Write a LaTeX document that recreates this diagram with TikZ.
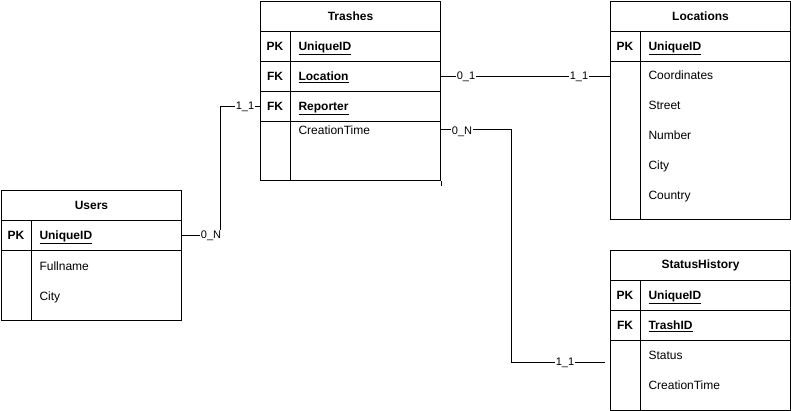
\documentclass[tikz,border=0pt]{standalone}
\usepackage{fontspec}
\setmainfont{Liberation Sans}
\usetikzlibrary{positioning}

\tikzset{
  tbox/.style={draw, minimum width=180pt, inner sep=0pt, anchor=north west},
  head/.style={tbox, minimum height=30pt, font=\fontsize{12}{14}\selectfont\bfseries},
  row/.style={tbox, minimum height=30pt},
  keytxt/.style={inner sep=0pt, text height=8.6pt, text depth=0pt, font=\fontsize{12}{14}\selectfont\bfseries},
  fieldtxt/.style={anchor=west, inner sep=0pt, text height=8.6pt, text depth=0pt, font=\fontsize{12}{14}\selectfont},
  keyfield/.style={fieldtxt, font=\fontsize{12}{14}\selectfont\bfseries},
  card/.style={fill=white, inner sep=1pt, text height=7.9pt, text depth=0pt, font=\fontsize{11}{13}\selectfont},
}

\begin{document}
\begin{tikzpicture}[x=1pt, y=-1pt, line width=1pt]
\useasboundingbox (0,0) rectangle (791,411);

\node[head] (trashes) at (260,1) {Trashes};
\node[row] (trPK) at (260,31) {};
\node[row] (trLoc) at (260,61) {};
\node[row] (trRep) at (260,91) {};
\node[tbox, minimum height=59pt] (trBody) at (260,121) {};
\draw ([xshift=30pt]trPK.north west) -- ([xshift=30pt]trBody.south west);
\draw (trBody.south east) -- ++(0,5);
\node[keytxt] (trPKk) at (275,46) {PK};
\node[keyfield] (trPKf) at (298,46) {\underline{UniqueID}};
\node[keytxt] (trLock) at (275,76) {FK};
\node[keyfield] (trLocf) at (298,76) {\underline{Location}};
\node[keytxt] (trRepk) at (275,106) {FK};
\node[keyfield] (trRepf) at (298,106) {\underline{Reporter}};
\node[fieldtxt] (trTime) at (298,130) {CreationTime};

\node[head] (locations) at (610,1) {Locations};
\node[row] (locPK) at (610,31) {};
\node[tbox, minimum height=158pt] (locBody) at (610,61) {};
\draw ([xshift=30pt]locPK.north west) -- ([xshift=30pt]locBody.south west);
\node[keytxt] (locPKk) at (625,46) {PK};
\node[keyfield] (locPKf) at (648,46) {\underline{UniqueID}};
\node[fieldtxt] (locCoord) at (648,75) {Coordinates};
\node[fieldtxt] (locStreet) at (648,105) {Street};
\node[fieldtxt] (locNumber) at (648,135) {Number};
\node[fieldtxt] (locCity) at (648,165) {City};
\node[fieldtxt] (locCountry) at (648,195) {Country};

\node[head] (users) at (1,190) {Users};
\node[row] (usPK) at (1,220) {};
\node[tbox, minimum height=70pt] (usBody) at (1,250) {};
\draw ([xshift=30pt]usPK.north west) -- ([xshift=30pt]usBody.south west);
\node[keytxt] (usPKk) at (16,235) {PK};
\node[keyfield] (usPKf) at (39,235) {\underline{UniqueID}};
\node[fieldtxt] (usName) at (39,266) {Fullname};
\node[fieldtxt] (usCity) at (39,296) {City};

\node[head] (status) at (610,250) {StatusHistory};
\node[row] (shPK) at (610,280) {};
\node[row] (shFK) at (610,310) {};
\node[tbox, minimum height=70pt] (shBody) at (610,340) {};
\draw ([xshift=30pt]shPK.north west) -- ([xshift=30pt]shBody.south west);
\node[keytxt] (shPKk) at (625,295) {PK};
\node[keyfield] (shPKf) at (648,295) {\underline{UniqueID}};
\node[keytxt] (shFKk) at (625,325) {FK};
\node[keyfield] (shFKf) at (648,325) {\underline{TrashID}};
\node[fieldtxt] (shStatus) at (648,355) {Status};
\node[fieldtxt] (shTime) at (648,385) {CreationTime};

\coordinate (trOut) at (440,130);
\coordinate (shIn) at (605,362);

\draw (trLoc.east) -- (trLoc.east -| locBody.west);
\draw (trRep.west) -- ++(-40,0) |- (usPK.east);
\draw (trOut) -- ++(71,0) |- (shIn);

\node[card] (cLocA) at (466,76) {0\_1};
\node[card] (cLocB) at (579,76) {1\_1};
\node[card] (cRepA) at (245,106) {1\_1};
\node[card] (cRepB) at (211,235) {0\_N};
\node[card] (cTimeA) at (462,131) {0\_N};
\node[card] (cTimeB) at (565,362) {1\_1};
\end{tikzpicture}
\end{document}
